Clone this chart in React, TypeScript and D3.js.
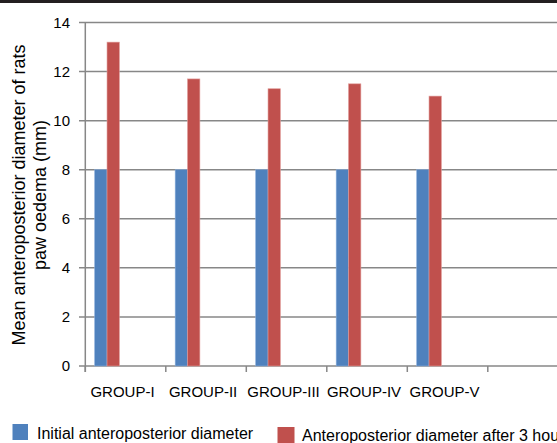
import React from "react";
import * as d3 from "d3";

const groups = ["GROUP-I", "GROUP-II", "GROUP-III", "GROUP-IV", "GROUP-V"];
const initialDiameter = [8, 8, 8, 8, 8];
const after3Hours = [13.2, 11.7, 11.3, 11.5, 11.0];
const seriesNames = ["Initial anteroposterior diameter", "Anteroposterior diameter after 3 hours"];
const seriesColors = ["#4F81BD", "#C0504D"];
const yTicks = [0, 2, 4, 6, 8, 10, 12, 14];

const W = 557;
const H = 443;
const left = 85.3;
const step = 80.5;
const slots = [...groups, "", ""];

export default function App() {
  const x0 = d3
    .scaleBand<string>()
    .domain(slots.map((s, i) => String(i)))
    .range([left, left + step * slots.length])
    .padding(0);
  const x1 = d3
    .scaleBand<number>()
    .domain(d3.range(5))
    .range([0, x0.bandwidth()])
    .paddingInner(0)
    .paddingOuter(0.76);
  const y = d3.scaleLinear().domain([0, 14]).range([366, 22.5]);
  const font = "'Liberation Sans', Arial, sans-serif";
  const series = [initialDiameter, after3Hours];
  const tickXs = d3.range(slots.length + 1).map((i) => left + i * step);

  return (
    <svg
      width={W}
      height={H}
      style={{ position: "absolute", left: 0, top: 0, background: "#fff" }}
      fontFamily={font}
    >
      <rect x={0} y={0} width={W} height={H} fill="#fff" />
      <rect x={0} y={0} width={W} height={3} fill="#231f20" />
      {yTicks.map((t) => (
        <g key={t}>
          <line x1={79} x2={W} y1={y(t)} y2={y(t)} stroke="#878787" strokeWidth={1.5} />
          <text x={70} y={y(t)} dy="0.35em" textAnchor="end" fontSize={15} fill="#000">
            {t}
          </text>
        </g>
      ))}
      <line x1={left} x2={left} y1={y(14)} y2={y(0) + 6} stroke="#878787" strokeWidth={1.5} />
      {tickXs.map((tx, i) => (
        <line key={i} x1={tx} x2={tx} y1={y(0)} y2={y(0) + 6} stroke="#878787" strokeWidth={1.5} />
      ))}
      {groups.map((g, gi) => (
        <g key={g} transform={`translate(${x0(String(gi))},0)`}>
          {series.map((vals, si) => (
            <rect
              key={si}
              x={x1(si)}
              y={y(vals[gi])}
              width={x1.bandwidth()}
              height={y(0) - y(vals[gi])}
              fill={seriesColors[si]}
              stroke={si === 0 ? "#8aaedb" : "#e09a98"}
              strokeWidth={0.6}
            />
          ))}
          <text
            x={x0.bandwidth() / 2 - 3}
            y={397}
            textAnchor="middle"
            fontSize={15}
            fill="#000"
          >
            {g}
          </text>
        </g>
      ))}
      <g transform="translate(0,195) rotate(-90)">
        <text x={0} y={25} textAnchor="middle" fontSize={18} fill="#000">
          Mean anteroposterior diameter of rats
        </text>
        <text x={0} y={46} textAnchor="middle" fontSize={18} fill="#000">
          paw oedema (mm)
        </text>
      </g>
      <rect x={12.5} y={424} width={15.5} height={16} fill={seriesColors[0]} />
      <text x={37} y={439} fontSize={16} fill="#000">
        {seriesNames[0]}
      </text>
      <rect x={277.5} y={427} width={17} height={16} fill={seriesColors[1]} />
      <text x={302} y={441} fontSize={16} fill="#000">
        {seriesNames[1]}
      </text>
    </svg>
  );
}
